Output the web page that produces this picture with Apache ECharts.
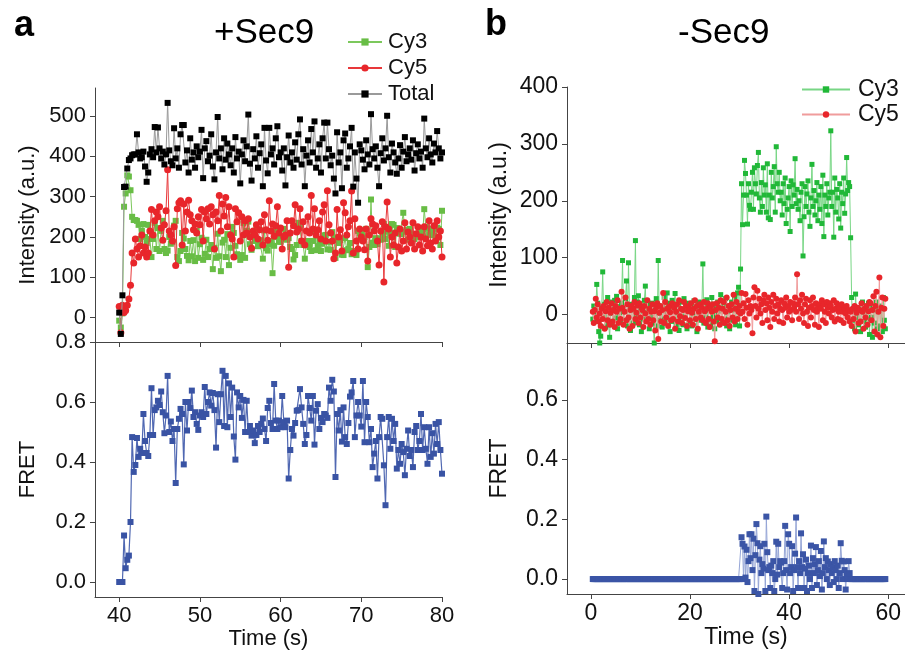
<!DOCTYPE html>
<html>
<head>
<meta charset="utf-8">
<title>smFRET traces</title>
<script src="https://cdn.jsdelivr.net/npm/echarts@6.0.0/dist/echarts.min.js"></script>
<style>
  html, body { margin: 0; padding: 0; background: #fff; }
  #main { width: 905px; height: 657px; }
</style>
</head>
<body>
<div id="main"></div>
<script>
// ---- data ----
// panel a (+Sec9): frames every 0.2 s starting at 40 s
var startA = 40, frameA = 0.2;
var cy3A = [
  -8, -25, 10, 275, 308, 353, 350, 316, 250, 242,
  242, 240, 230, 195, 215, 232, 200, 185, 230, 195,
  150, 195, 235, 170, 222, 165, 215, 240, 170, 160,
  166, 200, 183, 188, 228, 240, 150, 140, 165, 210,
  196, 170, 153, 142, 190, 152, 192, 140, 215, 148,
  182, 198, 143, 158, 193, 150, 170, 180, 120, 173,
  148, 208, 152, 115, 186, 193, 150, 207, 130, 173,
  225, 210, 178, 157, 152, 143, 155, 235, 148, 215,
  238, 182, 168, 203, 190, 220, 177, 190, 192, 146,
  216, 172, 166, 181, 190, 110, 178, 217, 200, 188,
  188, 195, 220, 203, 193, 197, 175, 170, 144, 155,
  180, 235, 222, 190, 180, 146, 187, 190, 175, 165,
  190, 217, 167, 177, 190, 165, 183, 204, 205, 169,
  188, 168, 212, 199, 148, 192, 185, 192, 156, 155,
  197, 167, 170, 185, 157, 165, 165, 155, 215, 210,
  215, 202, 200, 220, 125, 175, 293, 186, 180, 197,
  182, 196, 193, 207, 232, 195, 214, 178, 210, 232,
  230, 175, 222, 220, 208, 207, 260, 213, 218, 193,
  220, 207, 205, 195, 200, 205, 215, 212, 207, 269,
  225, 220, 205, 220, 215, 204, 220, 223, 220, 180, 265
];
var cy5A = [
  27, -38, 30, 12, 17, 30, 46, 80, 160, 135,
  195, 170, 150, 178, 205, 160, 175, 150, 160, 215,
  268, 205, 240, 262, 250, 275, 222, 192, 230, 265,
  367, 215, 205, 190, 225, 129, 270, 285, 290, 180,
  282, 215, 262, 291, 255, 240, 218, 232, 210, 250,
  230, 268, 190, 262, 245, 270, 232, 275, 255, 170,
  262, 240, 303, 215, 282, 252, 298, 225, 275, 205,
  195, 150, 270, 238, 260, 190, 250, 205, 240, 210,
  245, 200, 172, 215, 205, 230, 195, 218, 238, 180,
  255, 218, 192, 290, 215, 232, 202, 228, 275, 210,
  222, 170, 200, 205, 240, 125, 210, 240, 228, 280,
  212, 220, 270, 190, 238, 180, 215, 250, 210, 303,
  220, 270, 205, 218, 240, 195, 262, 280, 190, 315,
  230, 210, 190, 146, 160, 268, 200, 218, 165, 285,
  260, 205, 225, 240, 314, 160, 245, 190, 170, 220,
  200, 190, 168, 220, 140, 205, 245, 232, 215, 228,
  190, 130, 215, 238, 88, 225, 287, 220, 150, 200,
  180, 210, 135, 175, 220, 165, 190, 235, 170, 212,
  200, 185, 235, 170, 208, 225, 180, 200, 165, 225,
  195, 178, 240, 185, 170, 228, 190, 240, 200, 215, 150
];
var totalA = [
  12, -41, 55, 324, 325, 370, 391, 395, 403, 405,
  405, 455, 410, 395, 398, 412, 375, 337, 360, 405,
  418, 398, 473, 410, 472, 420, 395, 412, 380, 405,
  533, 415, 388, 378, 470, 395, 420, 372, 455, 478,
  478, 385, 415, 360, 445, 392, 410, 372, 425, 398,
  412, 466, 346, 420, 438, 388, 402, 455, 375, 343,
  410, 498, 395, 420, 368, 445, 392, 432, 405, 378,
  420, 360, 448, 395, 412, 333, 405, 440, 388, 425,
  504, 382, 340, 418, 395, 450, 372, 408, 430, 326,
  471, 390, 358, 471, 405, 420, 380, 445, 475, 398,
  410, 365, 420, 328, 398, 452, 385, 410, 372, 435,
  392, 455, 492, 380, 418, 326, 402, 440, 385, 468,
  410, 487, 372, 395, 430, 360, 445, 484, 395, 484,
  418, 378, 402, 345, 308, 460, 385, 410, 321, 440,
  457, 372, 395, 425, 471, 325, 410, 345, 285, 430,
  415, 392, 368, 440, 405, 380, 505, 418, 395, 425,
  372, 326, 408, 445, 390, 420, 501, 398, 360, 432,
  410, 385, 357, 395, 428, 372, 412, 448, 388, 405,
  420, 392, 440, 365, 408, 430, 395, 412, 372, 494,
  420, 398, 445, 405, 385, 432, 410, 463, 420, 395, 410
];
var fretA = [
  0, 0, 0, 0.155, 0.046, 0.074, 0.088, 0.2, 0.483, 0.367,
  0.39, 0.48, 0.417, 0.444, 0.43, 0.56, 0.47, 0.43, 0.42, 0.49,
  0.646, 0.49, 0.573, 0.582, 0.604, 0.59, 0.635, 0.566, 0.496, 0.555,
  0.687, 0.5, 0.535, 0.47, 0.51, 0.33, 0.51, 0.544, 0.577, 0.56,
  0.392, 0.6, 0.505, 0.6, 0.58, 0.638, 0.55, 0.566, 0.527, 0.507,
  0.555, 0.566, 0.55, 0.65, 0.56, 0.6, 0.632, 0.588, 0.63, 0.573,
  0.448, 0.626, 0.533, 0.626, 0.704, 0.52, 0.687, 0.516, 0.662, 0.55,
  0.648, 0.485, 0.408, 0.632, 0.582, 0.62, 0.547, 0.607, 0.5, 0.604,
  0.5, 0.52, 0.488, 0.505, 0.463, 0.49, 0.52, 0.5, 0.527, 0.545,
  0.51, 0.47, 0.58, 0.604, 0.53, 0.51, 0.66, 0.538, 0.51, 0.538,
  0.516, 0.62, 0.533, 0.516, 0.538, 0.345, 0.44, 0.51, 0.488, 0.53,
  0.571, 0.573, 0.643, 0.582, 0.527, 0.46, 0.49, 0.62, 0.58, 0.538,
  0.62, 0.458, 0.571, 0.593, 0.51, 0.547, 0.533, 0.56, 0.555, 0.547,
  0.648, 0.604, 0.674, 0.635, 0.35, 0.56, 0.505, 0.573, 0.468, 0.582,
  0.483, 0.46, 0.53, 0.618, 0.632, 0.67, 0.483, 0.555, 0.6, 0.555,
  0.518, 0.67, 0.466, 0.6, 0.55, 0.466, 0.51, 0.383, 0.428, 0.47,
  0.345, 0.483, 0.55, 0.544, 0.389, 0.256, 0.483, 0.55, 0.444, 0.544,
  0.47, 0.527, 0.378, 0.44, 0.394, 0.46, 0.433, 0.356, 0.444, 0.505,
  0.42, 0.44, 0.383, 0.5, 0.52, 0.44, 0.47, 0.56, 0.44, 0.516,
  0.444, 0.394, 0.516, 0.417, 0.496, 0.428, 0.527, 0.46, 0.533, 0.44, 0.361
];

// panel b (-Sec9): frames every 0.2 s starting at 0.4 s
var startB = 0.4, frameB = 0.2;
var cy3B = [
  -8, 15, -12, 5, 53, 20, -30, -50, -38, 12,
  75, -5, 18, -22, 8, 30, -15, -40, 2, 22,
  -18, 10, 25, -6, 32, -25, 14, 3, -12, 20,
  95, -10, 5, 28, 59, -20, 91, 12, -28, 8,
  18, -15, 30, 130, -5, 22, 33, -18, 6, -30,
  15, -8, 25, 50, -12, 4, 18, -25, 10, -5,
  20, -15, -50, 8, 28, -20, 95, 2, -10, 15,
  -22, 12, 30, -8, 5, 38, -15, 20, -30, 6,
  25, -12, 10, 37, -20, 3, 15, -28, 22, -6,
  8, -18, 28, -4, 14, -25, 20, 5, -12, 18,
  -20, 10, 24, -8, 3, -30, 15, 22, -10, 5,
  12, 89, -15, 20, -6, 26, -22, 8, 14, -18,
  30, -5, 10, -25, 18, 4, 22, -12, 6, 35,
  -15, 12, 20, -8, 28, -20, 5, 15, -25, 10,
  22, -10, 8, 30, -18, 12, 38, 48, -20, 80,
  230, 158, 210, 271, 248, 210, 159, 230, 192, 185,
  215, 250, 185, 258, 230, 212, 262, 285, 205, 180,
  232, 190, 258, 210, 228, 180, 265, 170, 210, 167,
  250, 205, 225, 260, 180, 295, 230, 215, 250, 200,
  215, 175, 230, 195, 240, 160, 185, 205, 225, 146,
  235, 190, 228, 210, 274, 195, 220, 185, 200, 165,
  215, 230, 103, 172, 225, 190, 212, 235, 180, 155,
  205, 264, 190, 218, 175, 200, 232, 165, 210, 185,
  225, 160, 245, 137, 210, 190, 230, 175, 205, 215,
  323, 190, 215, 136, 240, 180, 220, 205, 168, 230,
  152, 215, 195, 240, 178, 212, 276, 218, 232, 225,
  135, 30, -10, 8, -25, 36, -5, 12, -18, 5,
  -30, 10, 22, -12, 4, -22, 15, -8, 20, -35,
  12, -5, -40, 18, -15, 8, 22, -25, 5, 15,
  -20, 10, -30, 30, -10, -25
];
var cy5B = [
  5, -15, 8, 28, -5, 18, -12, 2, -20, 10,
  -8, 15, -25, 6, 22, -10, 12, -18, 3, 20,
  -12, 8, -22, 15, 5, 25, -15, 10, -8, 40,
  12, -18, 5, 30, -10, 18, -5, -25, 8, 15,
  -20, 10, 22, -8, 3, 16, -15, 20, -5, 12,
  8, -22, 15, 2, -12, 25, -8, 10, -18, 5,
  18, -10, 6, -28, 12, 20, -43, 3, 15, -12,
  8, 38, -15, 22, -5, 10, -20, 14, 4, -10,
  20, -8, 12, -25, 5, 18, -12, 25, -3, 10,
  -15, 8, 22, -6, 15, -20, 6, 12, -10, 20,
  3, -18, 10, 25, -8, 15, -25, 5, 18, -5,
  12, -10, 22, 6, -15, 10, 20, -8, -22, 14,
  5, 18, -12, -47, 8, 20, -5, 12, -18, 25,
  -8, 10, 22, -15, 5, 30, -10, 15, -20, 8,
  18, -5, 35, -12, 10, 22, -8, 5, 15, 2,
  38, 5, 20, -8, 36, 12, -18, 25, 2, 15,
  8, -33, 30, 48, 15, -5, 42, 10, 28, 2,
  18, -15, 25, 35, 8, 20, -10, 30, 12, -22,
  22, 5, 35, -8, 15, 28, 2, 18, -12, 10,
  25, 8, -15, 20, 12, 30, -5, 15, 5, 22,
  8, -10, 20, 12, 30, 5, 71, 18, -8, 25,
  10, 35, 2, -15, 18, 28, 5, -20, 12, 25,
  -5, 15, 30, 8, -18, 20, 5, 12, -22, 18,
  10, 25, -10, 18, 5, -15, 22, 12, 2, 20,
  15, -5, 8, 25, -12, 10, 20, -8, 5, 12,
  -10, 18, 5, -15, 10, 2, 15, -5, 8, -12,
  5, -20, 10, -8, 15, -30, 3, 12, -15, 8,
  -12, 20, 5, -25, 10, -5, 15, -18, 6, 22,
  20, -10, 8, 32, -30, 15, 40, -35, 5, 65,
  -40, 12, 30, -20, 10, 28
];
var fretB = [
  0, 0, 0, 0, 0, 0, 0, 0, 0, 0,
  0, 0, 0, 0, 0, 0, 0, 0, 0, 0,
  0, 0, 0, 0, 0, 0, 0, 0, 0, 0,
  0, 0, 0, 0, 0, 0, 0, 0, 0, 0,
  0, 0, 0, 0, 0, 0, 0, 0, 0, 0,
  0, 0, 0, 0, 0, 0, 0, 0, 0, 0,
  0, 0, 0, 0, 0, 0, 0, 0, 0, 0,
  0, 0, 0, 0, 0, 0, 0, 0, 0, 0,
  0, 0, 0, 0, 0, 0, 0, 0, 0, 0,
  0, 0, 0, 0, 0, 0, 0, 0, 0, 0,
  0, 0, 0, 0, 0, 0, 0, 0, 0, 0,
  0, 0, 0, 0, 0, 0, 0, 0, 0, 0,
  0, 0, 0, 0, 0, 0, 0, 0, 0, 0,
  0, 0, 0, 0, 0, 0, 0, 0, 0, 0,
  0, 0, 0, 0, 0, 0, 0, 0, 0, 0,
  0.14, 0.118, 0.0, 0.109, 0.005, 0.098, -0.01, 0.06, 0.15, 0.07,
  0.15, 0.03, 0.135, -0.04, 0.08, 0.184, 0.12, -0.05, 0.065, 0.11,
  0.02, 0.05, 0.035, 0.118, -0.04, 0.209, 0.09, 0.03, 0.04, -0.03,
  0.045, 0.02, 0.06, -0.04, 0.0, 0.125, 0.015, 0.118, 0.04, 0.06,
  0.055, -0.03, 0.02, 0.06, 0.178, 0.03, -0.035, 0.15, 0.118, 0.02,
  0.04, 0.11, -0.04, 0.03, 0.085, 0.206, 0.04, -0.03, 0.06, 0.02,
  0.153, 0.04, 0.083, -0.03, 0.035, 0.065, -0.04, 0.02, 0.045, 0.0,
  0.112, -0.03, 0.07, 0.02, 0.05, 0.107, -0.02, 0.03, 0.06, 0.01,
  0.094, -0.035, 0.02, 0.126, 0.04, 0.07, 0.0, 0.059, 0.03, -0.02,
  0.05, 0.02, 0.04, -0.01, 0.06, 0.03, 0.0, 0.045, -0.03, 0.02,
  0.12, 0.061, 0.0, 0.059, 0.03, -0.035, 0.015, 0.0, 0.06, 0.02,
  0, 0, 0, 0, 0, 0, 0, 0, 0, 0,
  0, 0, 0, 0, 0, 0, 0, 0, 0, 0,
  0, 0, 0, 0, 0, 0, 0, 0, 0, 0,
  0, 0, 0, 0, 0, 0
];

// tick values
var ticksTimeA = [40, 50, 60, 70, 80];
var ticksTimeB = [0, 20, 40, 60];
var ticksIntA = [0, 100, 200, 300, 400, 500];
var ticksIntB = [0, 100, 200, 300, 400];
var ticksFretA = [0, 0.2, 0.4, 0.6, 0.8];
var ticksFretB = [0, 0.2, 0.4, 0.6];

var FONT = '"Liberation Sans", Arial, Helvetica, sans-serif';
var AXIS_COLOR = '#444';

// frame index -> [time, value]
function toPairs(t0, dt, vals) {
  var out = [];
  for (var i = 0; i < vals.length; i++) {
    out.push([Math.round((t0 + i * dt) * 100) / 100, vals[i]]);
  }
  return out;
}

function fmt1(v) { return v.toFixed(1); }

function axis(opt) {
  return {
    type: 'value',
    gridIndex: opt.grid,
    min: opt.min,
    max: opt.max,
    name: opt.name || '',
    nameLocation: 'middle',
    nameGap: opt.nameGap || 30,
    nameTextStyle: { fontSize: opt.fs, color: '#111', fontFamily: FONT },
    axisLine: { show: true, onZero: false, lineStyle: { color: AXIS_COLOR, width: 1 } },
    axisTick: { show: true, length: 5, customValues: opt.ticks, lineStyle: { color: AXIS_COLOR, width: 1 } },
    axisLabel: {
      show: opt.labels !== false,
      customValues: opt.ticks,
      formatter: opt.formatter,
      margin: opt.margin || 9,
      fontSize: opt.fs,
      color: '#111',
      fontFamily: FONT
    },
    splitLine: { show: false }
  };
}

function trace(name, xi, data, sym, size, color, lineColor, lineWidth, z) {
  return {
    name: name,
    type: 'line',
    xAxisIndex: xi,
    yAxisIndex: xi,
    data: data,
    symbol: sym,
    symbolSize: size,
    showSymbol: true,
    showAllSymbol: true,
    itemStyle: { color: color },
    lineStyle: { color: lineColor, width: lineWidth },
    emphasis: { disabled: true },
    z: z
  };
}

var chart = echarts.init(document.getElementById('main'), null, { renderer: 'canvas' });

var titleFont = function (size, weight) {
  return { fontSize: size, fontWeight: weight, color: '#000', fontFamily: FONT };
};

var option = {
  animation: false,
  backgroundColor: '#fff',
  textStyle: { fontFamily: FONT },
  title: [
    { text: 'a', left: 14, top: 8, padding: 0, textStyle: titleFont(36, 'bold') },
    { text: '+Sec9', left: 214, top: 16, padding: 0, textStyle: titleFont(35, 'normal') },
    { text: 'b', left: 485, top: 7, padding: 0, textStyle: titleFont(36, 'bold') },
    { text: '-Sec9', left: 678, top: 16, padding: 0, textStyle: titleFont(35, 'normal') }
  ],
  legend: [
    {
      orient: 'vertical', left: 347, top: 31, padding: 0,
      itemWidth: 34, itemHeight: 9, itemGap: 4,
      data: ['Cy3', 'Cy5', 'Total'],
      textStyle: { fontSize: 22, color: '#111', fontFamily: FONT, padding: [0, 0, 0, 1] },
      selectedMode: false
    },
    {
      orient: 'vertical', left: 801, top: 78, padding: 0,
      itemWidth: 48, itemHeight: 8, itemGap: 2,
      data: ['Cy3_b', 'Cy5_b'],
      formatter: function (n) { return n.replace('_b', ''); },
      textStyle: { fontSize: 23, color: '#111', fontFamily: FONT, padding: [0, 0, 0, 3] },
      selectedMode: false
    }
  ],
  grid: [
    { left: 95, top: 88, width: 347, height: 254, outerBoundsMode: 'none' },
    { left: 95, top: 342, width: 347, height: 255, outerBoundsMode: 'none' },
    { left: 567, top: 87, width: 358, height: 256, outerBoundsMode: 'none' },
    { left: 567, top: 343, width: 358, height: 251, outerBoundsMode: 'none' }
  ],
  xAxis: [
    axis({ grid: 0, min: 37, max: 80, ticks: ticksTimeA, labels: false, fs: 22 }),
    axis({ grid: 1, min: 37, max: 80, ticks: ticksTimeA, fs: 22, name: 'Time (s)', nameGap: 30, margin: 8 }),
    axis({ grid: 2, min: -4.8, max: 67.4, ticks: ticksTimeB, labels: false, fs: 23 }),
    axis({ grid: 3, min: -4.8, max: 67.4, ticks: ticksTimeB, fs: 23, name: 'Time (s)', nameGap: 30, margin: 8 })
  ],
  yAxis: [
    axis({ grid: 0, min: -61, max: 570, ticks: ticksIntA, fs: 22, name: 'Intensity (a.u.)', nameGap: 56, margin: 9 }),
    axis({ grid: 1, min: -0.05, max: 0.8, ticks: ticksFretA, fs: 22, name: 'FRET', nameGap: 56, margin: 9, formatter: fmt1 }),
    axis({ grid: 2, min: -50, max: 400, ticks: ticksIntB, fs: 23, name: 'Intensity (a.u.)', nameGap: 56, margin: 9 }),
    axis({ grid: 3, min: -0.05, max: 0.79, ticks: ticksFretB, fs: 23, name: 'FRET', nameGap: 56, margin: 9, formatter: fmt1 })
  ],
  series: [
    trace('Cy3', 0, toPairs(startA, frameA, cy3A), 'rect', 6, '#68bd45', '#7cc85c', 1, 2),
    trace('Cy5', 0, toPairs(startA, frameA, cy5A), 'circle', 7, '#e8262b', '#e8383a', 1, 3),
    trace('Total', 0, toPairs(startA, frameA, totalA), 'rect', 6, '#000000', '#9a9a9a', 1, 4),
    trace('FRET', 1, toPairs(startA, frameA, fretA), 'rect', 6, '#3953a4', '#5068b2', 1.2, 2),
    trace('Cy3_b', 2, toPairs(startB, frameB, cy3B), 'rect', 5, '#21b838', '#78d685', 1, 2),
    trace('Cy5_b', 2, toPairs(startB, frameB, cy5B), 'circle', 6, '#e8262b', '#f09c9c', 1, 3),
    trace('FRET_b', 3, toPairs(startB, frameB, fretB), 'rect', 6, '#3b55a6', '#95a5d6', 1, 2)
  ]
};

chart.setOption(option);
</script>
</body>
</html>
